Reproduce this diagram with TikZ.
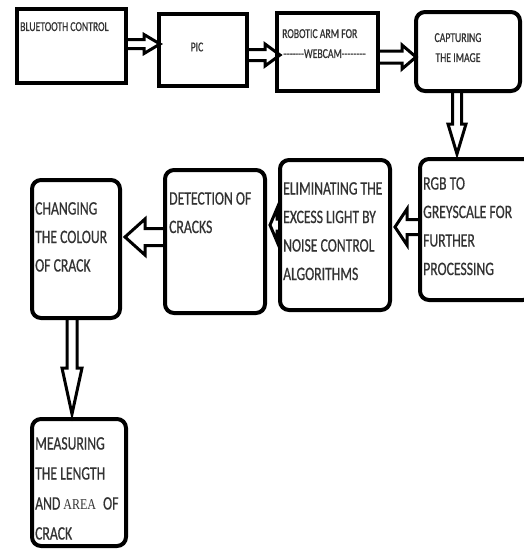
\documentclass[tikz,border=0pt]{standalone}
\usepackage{fontspec}
\setmainfont{Carlito}[FakeStretch=0.72,FakeBold=0.6]
\newfontfamily\areafont{Liberation Serif}[FakeStretch=0.8]
\usetikzlibrary{calc}
\tikzset{
 box/.style={draw=black, line width=4pt, inner sep=0pt, outer sep=0pt, anchor=north west},
 rbox/.style={box, rounded corners=9pt},
 toptext/.style={inner sep=0pt, font=\fontsize{13.5}{20}\selectfont, align=left, anchor=north west, text=black!80},
 lowtext/.style={inner sep=0pt, font=\fontsize{19}{28.5}\selectfont, align=left, anchor=north west, text=black!80},
 blockarrow/.style={draw=black, line width=3pt, fill=white, line join=miter},
}
\newcommand\hyph{-\kern0pt}
\newcommand\rarr[7]{%
 \draw[blockarrow] ($(#1.east|-#3)+(0,-#4)$) -- ($(#2.west|-#3)+(#7-#6,-#4)$) -- ($(#2.west|-#3)+(#7-#6,-#5)$) -- ($(#2.west|-#3)+(#7,0)$) -- ($(#2.west|-#3)+(#7-#6,#5)$) -- ($(#2.west|-#3)+(#7-#6,#4)$) -- ($(#1.east|-#3)+(0,#4)$) -- cycle;}
\newcommand\larr[7]{%
 \draw[blockarrow] ($(#1.west|-#3)+(0,-#4)$) -- ($(#2.east|-#3)+(#7+#6,-#4)$) -- ($(#2.east|-#3)+(#7+#6,-#5)$) -- ($(#2.east|-#3)+(#7,0)$) -- ($(#2.east|-#3)+(#7+#6,#5)$) -- ($(#2.east|-#3)+(#7+#6,#4)$) -- ($(#1.west|-#3)+(0,#4)$) -- cycle;}
\newcommand\darr[7]{%
 \draw[blockarrow] ($(#3|-#1.south)+(-#4,0)$) -- ($(#3|-#2.north)+(-#4,#7-#6)$) -- ($(#3|-#2.north)+(-#5,#7-#6)$) -- ($(#3|-#2.north)+(0,#7)$) -- ($(#3|-#2.north)+(#5,#7-#6)$) -- ($(#3|-#2.north)+(#4,#7-#6)$) -- ($(#3|-#1.south)+(#4,0)$) -- cycle;}
\begin{document}
\begin{tikzpicture}[x=1pt,y=-1pt]
\useasboundingbox[fill=white] (0,0) rectangle (524,550);
% box outlines (positions)
\path (17,9) node[box, draw=none, minimum width=109pt, minimum height=74pt] (b1) {};
\path (159,14) node[box, draw=none, minimum width=88pt, minimum height=72pt] (b2) {};
\path (277,13) node[box, draw=none, minimum width=101pt, minimum height=78pt] (b3) {};
\path (416,12) node[rbox, draw=none, minimum width=104pt, minimum height=79pt] (b4) {};
\path (420,159) node[rbox, draw=none, minimum width=112pt, minimum height=141pt] (rgb) {};
\path (280,160) node[rbox, draw=none, minimum width=110pt, minimum height=150pt] (elim) {};
\path (165,170) node[rbox, draw=none, minimum width=100pt, minimum height=143pt] (det) {};
\path (32,180) node[rbox, draw=none, minimum width=88pt, minimum height=138pt] (chg) {};
\path (32,419) node[rbox, draw=none, minimum width=94pt, minimum height=127pt] (meas) {};
% arrow levels
\coordinate (ya1) at (0,44);
\coordinate (ya2) at (0,55);
\coordinate (ya3) at (0,57);
\coordinate (xa4) at (457,0);
\coordinate (ya5) at (0,227);
\coordinate (ya6) at (0,225);
\coordinate (ya7) at (0,237);
\coordinate (xa8) at (72,0);
% arrows
\rarr{b1}{b2}{ya1}{4.5}{9.5}{16}{1}
\rarr{b2}{b3}{ya2}{5.5}{11}{15}{3}
\rarr{b3}{b4}{ya3}{6}{12}{14}{0}
\darr{b4}{rgb}{xa4}{4.5}{9}{30}{-5}
\larr{rgb}{elim}{ya5}{7.5}{18}{12}{5}
\larr{elim}{det}{ya6}{6}{16.5}{7}{5}
\larr{det}{chg}{ya7}{8.5}{18}{20}{5}
\darr{chg}{meas}{xa8}{5}{10}{46}{-5}
% box borders drawn over arrows
\foreach \n in {b1,b2,b3} \draw[line width=4pt] (\n.north west) rectangle (\n.south east);
\foreach \n in {b4,rgb,elim,det,chg,meas} \draw[line width=4pt, rounded corners=9pt] (\n.north west) rectangle (\n.south east);
% texts
\node[toptext] (t1) at (20,22) {BLUETOOTH CONTROL};
\node[toptext, anchor=center] (t2) at (197,47) {PIC};
\node[toptext] (t3) at (282,29) {ROBOTIC ARM FOR\\\hspace{1pt}\hyph\hyph\hyph\hyph\hyph\hyph\hyph WEBCAM\hyph\hyph\hyph\hyph\hyph\hyph\hyph\hyph};
\node[toptext, align=center, anchor=north] (t4) at (458,33) {CAPTURING\\THE IMAGE};
\node[lowtext] (t5) at (423,177) {RGB TO\\GREYSCALE FOR\\FURTHER\\PROCESSING};
\node[lowtext] (t6) at (283,182) {ELIMINATING THE\\EXCESS LIGHT BY\\NOISE CONTROL\\ALGORITHMS};
\node[lowtext] (t7) at (169,192) {DETECTION OF\\CRACKS};
\node[lowtext] (t8) at (35,202) {CHANGING\\THE COLOUR\\OF CRACK};
\node[lowtext, font=\fontsize{19}{30}\selectfont] (t9) at (35,437) {MEASURING\\THE LENGTH\\AND {\areafont\fontsize{15}{30}\selectfont AREA}\hspace{7pt}OF\\CRACK};
\end{tikzpicture}
\end{document}
